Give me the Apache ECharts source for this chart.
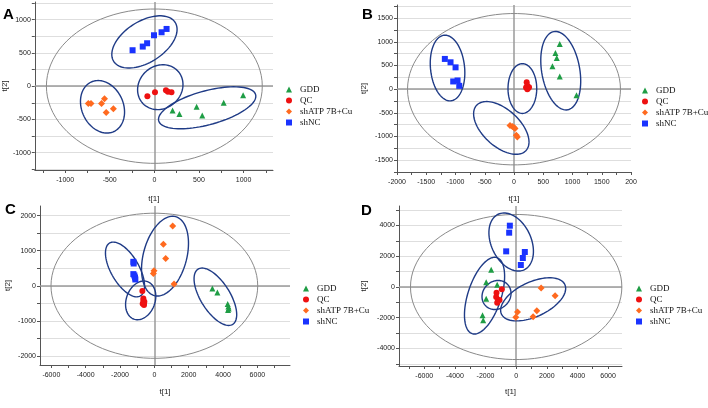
<!DOCTYPE html>
<html><head><meta charset="utf-8">
<script src="https://cdn.jsdelivr.net/npm/echarts@6/dist/echarts.min.js"></script>
<style>html,body{margin:0;padding:0;background:#fff}#c{width:708px;height:408px}</style>
</head><body><div id="c"></div>
<script>
const seriesNames = ['GDD', 'QC', 'shATP 7B+Cu', 'shNC'];

// ---- Panel A ----
const aGDD = [[204,-365],[281,-420],[474,-310],[537,-440],[777,-250],[995,-135]];
const aQC  = [[-78,-150],[7,-90],[130,-60],[152,-85],[192,-90]];
const aATP = [[-740,-260],[-710,-260],[-592,-260],[-559,-190],[-540,-395],[-459,-340]];
const aNC  = [[-244,540],[-130,595],[-81,645],[-4,765],[81,810],[137,860]];
// ellipses: [cx, cy, ux, uy, vx, vy] (centre + two conjugate semi-axes, data units)
const aHotelling = [[0,0,1210,0,0,1160]];
const aGroups = [[-111,665,345,291.5,-121.6,262.9],[66.6,-15,204,231.5,-152,245],[-581,-310,128.3,-371.5,211.2,133.2],[592,-325,543.3,196.8,-48.9,246.3]];
const aXLabels = [-1000,-500,0,500,1000];
const aXTicks  = [-1250,-1000,-750,-500,-250,0,250,500,750,1000,1250];
const aYLabels = [-1000,-500,0,500,1000];
const aYTicks  = [-1250,-1000,-750,-500,-250,0,250,500,750,1000,1250];

// ---- Panel B ----
const bGDD = [[782,953],[708,768],[731,661],[657,484],[782,270],[1068,-128]];
const bQC  = [[217,149],[228,71],[206,36],[240,21],[257,43],[228,0]];
const bATP = [[-68,-768],[-29,-789],[17,-832],[0,-811],[40,-974],[57,-1010]];
const bNC  = [[-1182,640],[-1085,569],[-999,462],[-1039,164],[-965,185],[-936,71]];
const bHotelling = [[0,0,1820,0,0,1600]];
const bGroups = [[-1136,448,-58.7,693.3,-289.7,-38.1],[143,14,0,526,-245.5,0],[-217,-818,424.3,-475.7,210.1,290.5],[799,391,-117.2,826.4,-320.6,-70.5]];
const bXLabels = [-2000,-1500,-1000,-500,0,500,1000,1500,2000];
const bXLabelText = ['-2000','-1500','-1000','-500','0','500','1000','1500','200'];
const bXTicks  = [-2000,-1750,-1500,-1250,-1000,-750,-500,-250,0,250,500,750,1000,1250,1500,1750,2000];
const bYLabels = [-1500,-1000,-500,0,500,1000,1500];
const bYTicks  = [-1750,-1500,-1250,-1000,-750,-500,-250,0,250,500,750,1000,1250,1500,1750];

// ---- Panel C ----
const cGDD = [[3379,-76],[3670,-190],[4272,-521],[4311,-588],[4330,-645],[4291,-692]];
const cQC  = [[-699,-152],[-641,-360],[-641,-427],[-602,-493],[-602,-550],[-583,-455],[-680,-512]];
const cATP = [[1068,1706],[524,1185],[660,777],[-19,427],[-58,351],[1146,47]];
const cNC  = [[-1223,683],[-1204,635],[-1223,332],[-1165,294],[-1126,237],[-1107,180]];
const cHotelling = [[0,0,6020,0,0,2070]];
const cGroups = [[-1709,465,-893.3,755.3,-706.4,-199.1],[-796,-417,398.5,534.7,-785,139.4],[621,844,618.7,1126.4,-1219.4,159.6],[3554,-313,1008.7,-787.8,724.6,221.1]];
const cXLabels = [-6000,-4000,-2000,0,2000,4000,6000];
const cXTicks  = [-6000,-5000,-4000,-3000,-2000,-1000,0,1000,2000,3000,4000,5000,6000,7000];
const cYLabels = [-2000,-1000,0,1000,2000];
const cYTicks  = [-2000,-1500,-1000,-500,0,500,1000,1500,2000];

// ---- Panel D ----
const dGDD = [[-1631,1127],[-1957,304],[-1239,152],[-1957,-759],[-2196,-1843],[-2152,-2168]];
const dQC  = [[-935,-152],[-1283,-369],[-1304,-650],[-1196,-911],[-1087,-846],[-1239,-1019]];
const dATP = [[1631,-65],[2544,-564],[1348,-1539],[87,-1626],[-22,-1973],[1109,-1930]];
const dNC  = [[-413,3989],[-457,3534],[-652,2320],[565,2276],[435,1886],[304,1431]];
const dHotelling = [[0,0,6900,0,0,4720]];
const dGroups = [[-326,2927,-846,1807,-1181.8,-550.2],[-2065,-564,806.1,2474.1,-1033.7,335],[-1283,-520,707,705,-630.2,628.4],[1109,-802,2068.2,962.9,-478.2,1021.4]];
const dXLabels = [-6000,-4000,-2000,0,2000,4000,6000];
const dXTicks  = [-7000,-6000,-5000,-4000,-3000,-2000,-1000,0,1000,2000,3000,4000,5000,6000];
const dYLabels = [-4000,-2000,0,2000,4000];
const dYTicks  = [-5000,-4000,-3000,-2000,-1000,0,1000,2000,3000,4000,5000];

const panels = [
  {letter:'A', gdd:aGDD, qc:aQC, atp:aATP, nc:aNC, hot:aHotelling, groups:aGroups,
   xMin:-1340, xMax:1330, yMin:-1260, yMax:1265, xl:aXLabels, xt:aXTicks, yl:aYLabels, yt:aYTicks,
   grid:{left:33, top:2, width:240, height:168}, xGap:25, yGap:19, legend:{left:281, top:80}, letterPos:[3,7]},
  {letter:'B', gdd:bGDD, qc:bQC, atp:bATP, nc:bNC, hot:bHotelling, groups:bGroups,
   xMin:-2000, xMax:2000, yMin:-1750, yMax:1780, xl:bXLabels, xlText:bXLabelText, xt:bXTicks, yl:bYLabels, yt:bYTicks,
   grid:{left:397, top:5, width:234, height:167}, xGap:23, yGap:29, legend:{left:637, top:81}, letterPos:[362,7]},
  {letter:'C', gdd:cGDD, qc:cQC, atp:cATP, nc:cNC, hot:cHotelling, groups:cGroups,
   xMin:-6660, xMax:7900, yMin:-2260, yMax:2275, xl:cXLabels, xt:cXTicks, yl:cYLabels, yt:cYTicks,
   grid:{left:40, top:206, width:250, height:159}, xGap:23, yGap:28, legend:{left:298, top:279}, letterPos:[5,202]},
  {letter:'D', gdd:dGDD, qc:dQC, atp:dATP, nc:dNC, hot:dHotelling, groups:dGroups,
   xMin:-7650, xMax:6910, yMin:-5140, yMax:5270, xl:dXLabels, xt:dXTicks, yl:dYLabels, yt:dYTicks,
   grid:{left:399, top:206, width:223, height:160}, xGap:22, yGap:31, legend:{left:631, top:279}, letterPos:[361,203]}
];

const styleOf = {
  'GDD': {symbol:'triangle', size:6, color:'#1f9d45'},
  'QC': {symbol:'circle', size:6, color:'#ee1111'},
  'shATP 7B+Cu': {symbol:'diamond', size:7, color:'#ff6a1f'},
  'shNC': {symbol:'rect', size:6, color:'#1a33ff'}
};

function ellipseRender(color, width) {
  return function (params, api) {
    const cx = api.value(0), cy = api.value(1), ux = api.value(2), uy = api.value(3), vx = api.value(4), vy = api.value(5);
    const pts = [];
    const n = 90;
    for (let i = 0; i < n; i++) {
      const t = i / n * Math.PI * 2, c = Math.cos(t), s = Math.sin(t);
      pts.push(api.coord([cx + ux * c + vx * s, cy + uy * c + vy * s]));
    }
    return {type:'polygon', shape:{points:pts}, style:{fill:null, stroke:color, lineWidth:width}, silent:true};
  };
}

const grids = [], xAxes = [], yAxes = [], series = [], legends = [], graphics = [];
const axisFont = 'Liberation Sans';
panels.forEach((p, i) => {
  grids.push(Object.assign({containLabel:false}, p.grid));
  const xText = p.xlText;
  xAxes.push({
    type:'value', gridIndex:i, min:p.xMin, max:p.xMax,
    name:'t[1]', nameLocation:'middle', nameGap:p.xGap,
    nameTextStyle:{fontSize:8, fontFamily:axisFont, color:'#222'},
    axisLine:{show:true, onZero:false, lineStyle:{color:'#555', width:1}},
    axisTick:{show:true, customValues:p.xt, length:3, lineStyle:{color:'#555'}},
    axisLabel:{customValues:p.xl, fontSize:7, fontFamily:axisFont, color:'#222', margin:7,
      formatter: v => xText ? xText[p.xl.indexOf(v)] : String(v)},
    splitLine:{show:false}
  });
  yAxes.push({
    type:'value', gridIndex:i, min:p.yMin, max:p.yMax,
    name:'t[2]', nameLocation:'middle', nameGap:p.yGap,
    nameTextStyle:{fontSize:8, fontFamily:axisFont, color:'#222'},
    axisLine:{show:true, onZero:false, lineStyle:{color:'#555', width:1}},
    axisTick:{show:true, customValues:p.yt, length:3, lineStyle:{color:'#555'}},
    axisLabel:{customValues:p.yl, fontSize:7, fontFamily:axisFont, color:'#222', margin:4,
      formatter: v => String(v)},
    splitLine:{show:true, lineStyle:{color:'#dedede', width:1}}
  });
  series.push({
    type:'custom', xAxisIndex:i, yAxisIndex:i, data:p.hot, z:1, silent:true,
    renderItem: ellipseRender('#8a8a8a', 1),
    markLine:{silent:true, symbol:'none', label:{show:false}, z:1,
      lineStyle:{color:'#9a9a9a', width:1.5, type:'solid'}, data:[{xAxis:0},{yAxis:0}]}
  });
  series.push({
    type:'custom', xAxisIndex:i, yAxisIndex:i, data:p.groups, z:2, silent:true,
    renderItem: ellipseRender('#1f3b86', 1.4)
  });
  const sets = [p.gdd, p.qc, p.atp, p.nc];
  seriesNames.forEach((nm, k) => {
    const st = styleOf[nm];
    series.push({type:'scatter', name:nm, xAxisIndex:i, yAxisIndex:i, data:sets[k], z:3,
      symbol:st.symbol, symbolSize:st.size, itemStyle:{color:st.color, opacity:1}});
  });
  legends.push({
    data:seriesNames, orient:'vertical', left:p.legend.left, top:p.legend.top,
    itemWidth:6, itemHeight:6, itemGap:2, selectedMode:false,
    textStyle:{fontFamily:'Liberation Serif', fontSize:9, color:'#111', padding:[0,0,0,3]}
  });
  graphics.push({type:'text', left:p.letterPos[0], top:p.letterPos[1],
    style:{text:p.letter, font:'bold 15px "Liberation Sans"', fill:'#000'}});
});

const chart = echarts.init(document.getElementById('c'), null, {renderer:'canvas'});
chart.setOption({
  animation:false,
  backgroundColor:'#fff',
  grid:grids, xAxis:xAxes, yAxis:yAxes, series:series, legend:legends, graphic:graphics
});
</script>
</body></html>
